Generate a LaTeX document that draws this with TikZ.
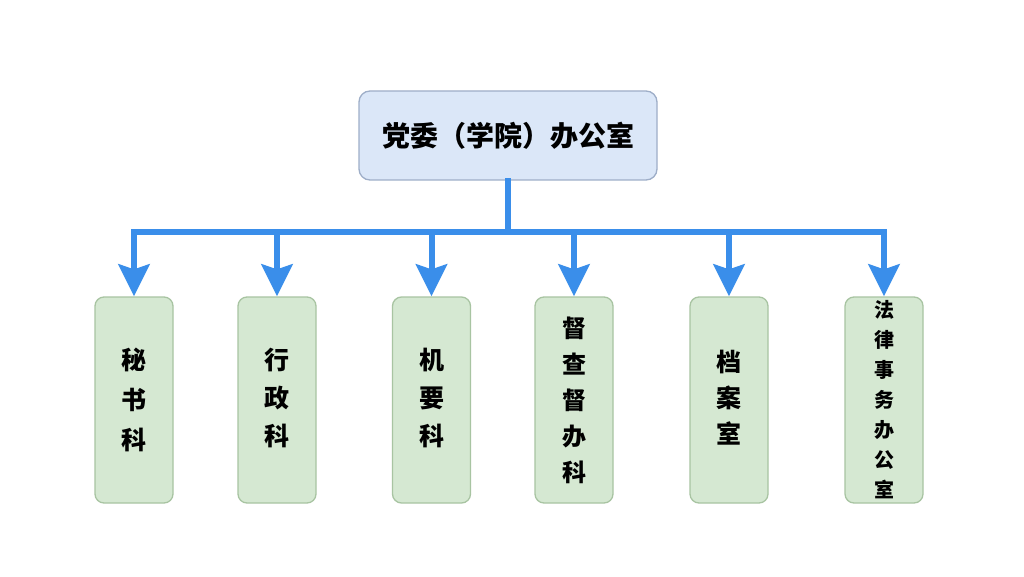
\documentclass[tikz,border=0pt]{standalone}
\usepackage{fontspec}
\newfontfamily\cjk{Noto Sans CJK SC}
\usetikzlibrary{arrows.meta}
\definecolor{linec}{HTML}{3A8EEA}
\definecolor{topfill}{HTML}{DBE7F8}
\definecolor{topdraw}{HTML}{9EAEC8}
\definecolor{kidfill}{HTML}{D5E8D2}
\definecolor{kiddraw}{HTML}{A8C4A2}
\tikzset{
  topbox/.style={draw=topdraw, fill=topfill, line width=1.3pt, rounded corners=11pt,
    minimum width=298pt, minimum height=89pt, inner sep=0pt,
    font=\cjk\bfseries\fontsize{28}{30}\selectfont},
  kidbox/.style={draw=kiddraw, fill=kidfill, line width=1.3pt, rounded corners=9pt,
    minimum width=78pt, minimum height=206pt, inner sep=0pt},
  kidtext/.style={align=center, inner sep=0pt},
  conn/.style={draw=linec, line width=6pt, line cap=rect},
  arr/.style={draw=linec, line width=6pt, -{Stealth[length=32pt, width=31pt, inset=5pt]}}
}
\begin{document}
\begin{tikzpicture}[x=1pt,y=-1pt]
\useasboundingbox[fill=white] (0,0) rectangle (1024,577);
\node[topbox] (top) at (508,135.5) {党委（学院）办公室};
\node[kidbox] (c1) at (134,400) {};
\node[kidbox] (c2) at (277,400) {};
\node[kidbox] (c3) at (431.5,400) {};
\node[kidbox] (c4) at (574,400) {};
\node[kidbox] (c5) at (729,400) {};
\node[kidbox] (c6) at (884,400) {};
\node[kidtext, font=\cjk\bfseries\fontsize{25}{40}\selectfont] (t1) at (c1.center) {秘\\书\\科};
\node[kidtext, font=\cjk\bfseries\fontsize{25}{38}\selectfont] (t2) at ([yshift=2pt]c2.center) {行\\政\\科};
\node[kidtext, font=\cjk\bfseries\fontsize{25}{38}\selectfont] (t3) at ([yshift=2pt]c3.center) {机\\要\\科};
\node[kidtext, font=\cjk\bfseries\fontsize{24}{36}\selectfont] (t4) at (c4.center) {督\\查\\督\\办\\科};
\node[kidtext, font=\cjk\bfseries\fontsize{25}{36}\selectfont] (t5) at ([yshift=2pt]c5.center) {档\\案\\室};
\node[kidtext, font=\cjk\bfseries\fontsize{20}{30}\selectfont] (t6) at (c6.center) {法\\律\\事\\务\\办\\公\\室};
\coordinate (j) at (508,232);
\draw[conn] (top.south) -- (j);
\draw[conn] (c1.north |- j) -- (c6.north |- j);
\foreach \c in {c1,c2,c3,c4,c5,c6}{
  \draw[arr] (\c.north |- j) -- (\c.north);
}
\end{tikzpicture}
\end{document}
